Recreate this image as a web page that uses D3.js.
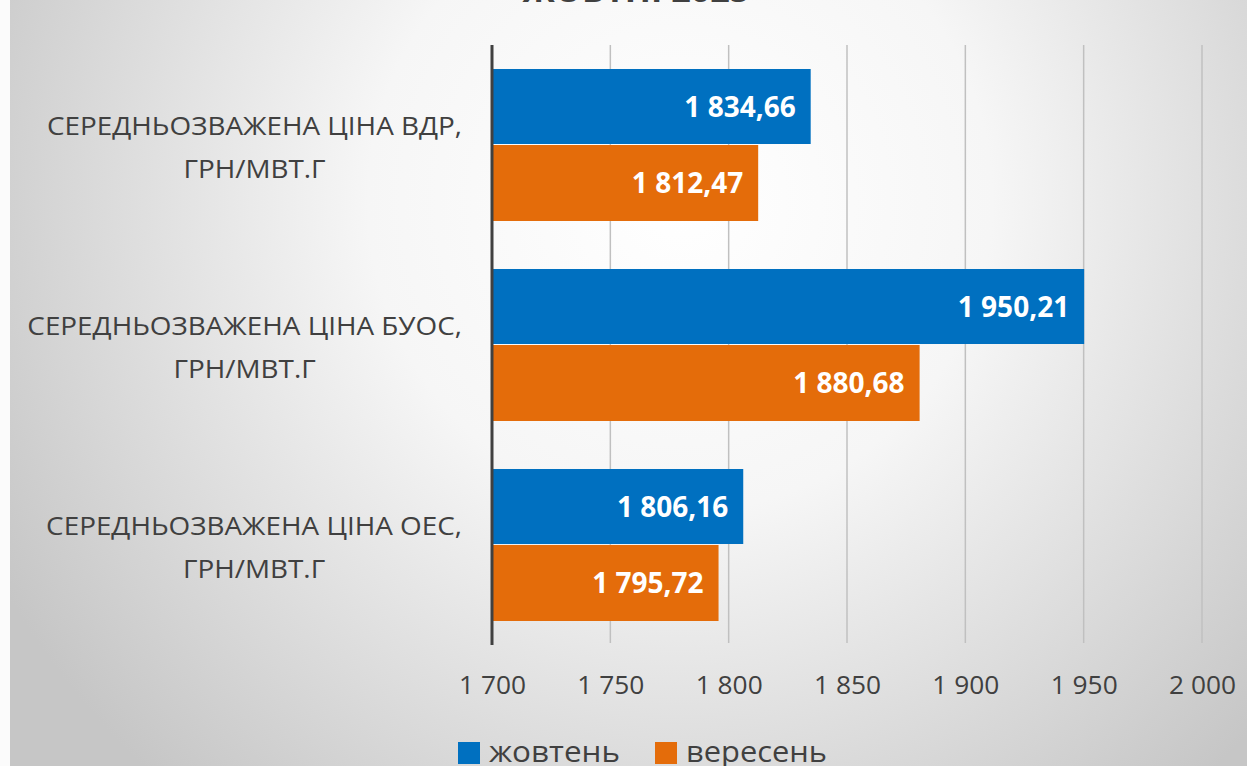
<!DOCTYPE html>
<html lang="uk">
<head>
    <meta charset="UTF-8">
    <title>Середньозважені ціни</title>
    <script src="https://d3js.org/d3.v7.min.js"></script>
    <style>
        html, body { margin: 0; padding: 0; background: #fff; }
        svg { display: block; }
        text { font-family: "Open Sans", "Noto Sans", sans-serif; }
    </style>
</head>
<body>
<script type="text/javascript">
    var categories = [
        ["СЕРЕДНЬОЗВАЖЕНА ЦІНА ВДР,", "ГРН/МВТ.Г"],
        ["СЕРЕДНЬОЗВАЖЕНА ЦІНА БУОС,", "ГРН/МВТ.Г"],
        ["СЕРЕДНЬОЗВАЖЕНА ЦІНА ОЕС,", "ГРН/МВТ.Г"]
    ];
    var seriesNames = ["жовтень", "вересень"];
    var october = [1834.66, 1950.21, 1806.16];
    var september = [1812.47, 1880.68, 1795.72];
    var xTicks = [1700, 1750, 1800, 1850, 1900, 1950, 2000];
    var colors = ["#0070c0", "#e46c0a"];

    var svgWidth = 1247, svgHeight = 766;
    var plotLeft = 492, plotRight = 1202, plotTop = 45, plotBottom = 645;

    var fmtTick = function (v) {
        return d3.format(",")(v).replace(/,/g, " ");
    };
    var fmtVal = function (v) {
        return d3.format(",.2f")(v).replace(/,/g, " ").replace(".", ",");
    };

    var svg = d3.select("body").append("svg")
        .attr("width", svgWidth)
        .attr("height", svgHeight);

    var grad = svg.append("defs").append("radialGradient")
        .attr("id", "bg")
        .attr("gradientUnits", "userSpaceOnUse")
        .attr("cx", 680).attr("cy", 200).attr("r", 780);
    grad.append("stop").attr("offset", "0%").attr("stop-color", "#ffffff");
    grad.append("stop").attr("offset", "40%").attr("stop-color", "#f6f6f6");
    grad.append("stop").attr("offset", "100%").attr("stop-color", "#c6c6c6");

    svg.append("rect").attr("width", svgWidth).attr("height", svgHeight).attr("fill", "#fbfbfb");
    svg.append("rect").attr("x", 10).attr("width", svgWidth - 10).attr("height", svgHeight)
        .attr("fill", "url(#bg)");

    // title, mostly above the top edge
    svg.append("text")
        .attr("x", 636).attr("y", 2)
        .attr("text-anchor", "middle")
        .attr("font-size", 32).attr("font-weight", "bold")
        .attr("fill", "#404040")
        .attr("textLength", 227).attr("lengthAdjust", "spacingAndGlyphs")
        .text("ЖОВТНІ 2025");

    var xScale = d3.scaleLinear().domain([1700, 2000]).range([plotLeft, plotRight]);
    var yScale = d3.scaleBand()
        .domain(d3.range(categories.length))
        .range([plotTop, plotBottom])
        .paddingInner(0.24).paddingOuter(0.12);
    var sub = d3.scaleBand().domain([0, 1]).range([0, yScale.bandwidth()]);

    // gridlines
    svg.append("g").selectAll("line")
        .data(xTicks.slice(1))
        .enter().append("line")
        .attr("x1", function (d) { return xScale(d); })
        .attr("x2", function (d) { return xScale(d); })
        .attr("y1", plotTop).attr("y2", plotBottom - 2)
        .attr("stroke", "#c0c0c0").attr("stroke-width", 1.5);

    // x axis labels
    var xAxis = d3.axisBottom(xScale).tickValues(xTicks).tickFormat(fmtTick).tickSize(0).tickPadding(31);
    var gx = svg.append("g").attr("transform", "translate(0," + plotBottom + ")").call(xAxis);
    gx.select(".domain").remove();
    gx.selectAll("text")
        .attr("font-size", 26)
        .attr("fill", "#404040")
        .style("font-family", "'Open Sans', sans-serif")
        .attr("textLength", 67)
        .attr("lengthAdjust", "spacingAndGlyphs");

    [october, september].forEach(function (vals, s) {
        var g = svg.append("g");
        g.selectAll("rect")
            .data(vals)
            .enter().append("rect")
            .attr("x", xScale(1700))
            .attr("y", function (d, i) { return yScale(i) + sub(s); })
            .attr("width", function (d) { return xScale(d) - xScale(1700); })
            .attr("height", sub.bandwidth() - (s === 0 ? 1 : 0))
            .attr("fill", colors[s]);
        g.selectAll("text")
            .data(vals)
            .enter().append("text")
            .attr("x", function (d) { return xScale(d) - 15; })
            .attr("y", function (d, i) { return yScale(i) + sub(s) + sub.bandwidth() / 2; })
            .attr("dy", "0.36em")
            .attr("text-anchor", "end")
            .attr("font-size", 28).attr("font-weight", "bold")
            .attr("fill", "#ffffff")
            .text(fmtVal);
    });

    // vertical axis line
    svg.append("line")
        .attr("x1", plotLeft).attr("x2", plotLeft)
        .attr("y1", plotTop).attr("y2", plotBottom)
        .attr("stroke", "#404040").attr("stroke-width", 3);

    // category labels, two centred lines each, squeezed to Calibri-like width
    var catRight = 462;
    var cat = svg.append("g");
    var squeeze = null;
    categories.forEach(function (lines, i) {
        var cy = yScale(i) + yScale.bandwidth() / 2;
        var t1 = cat.append("text")
            .attr("font-size", 25).attr("fill", "#404040")
            .attr("text-anchor", "end")
            .attr("x", catRight).attr("y", cy - 10)
            .text(lines[0]);
        var w1 = t1.node().getComputedTextLength();
        if (squeeze === null) squeeze = 415 / w1;
        w1 = w1 * squeeze;
        t1.attr("textLength", w1).attr("lengthAdjust", "spacingAndGlyphs");
        var t2 = cat.append("text")
            .attr("font-size", 25).attr("fill", "#404040")
            .attr("text-anchor", "middle")
            .attr("x", catRight - w1 / 2).attr("y", cy + 33)
            .text(lines[1]);
        var w2 = t2.node().getComputedTextLength() * squeeze;
        t2.attr("textLength", w2).attr("lengthAdjust", "spacingAndGlyphs");
    });

    // legend
    var legend = svg.append("g");
    var legendX = [458, 655];
    var legendW = [131, 141];
    seriesNames.forEach(function (name, s) {
        legend.append("rect")
            .attr("x", legendX[s]).attr("y", 742)
            .attr("width", 22).attr("height", 22)
            .attr("fill", colors[s]);
        legend.append("text")
            .attr("x", legendX[s] + 31).attr("y", 762)
            .attr("font-size", 30)
            .attr("fill", "#404040")
            .attr("textLength", legendW[s]).attr("lengthAdjust", "spacingAndGlyphs")
            .text(name);
    });
</script>
</body>
</html>
